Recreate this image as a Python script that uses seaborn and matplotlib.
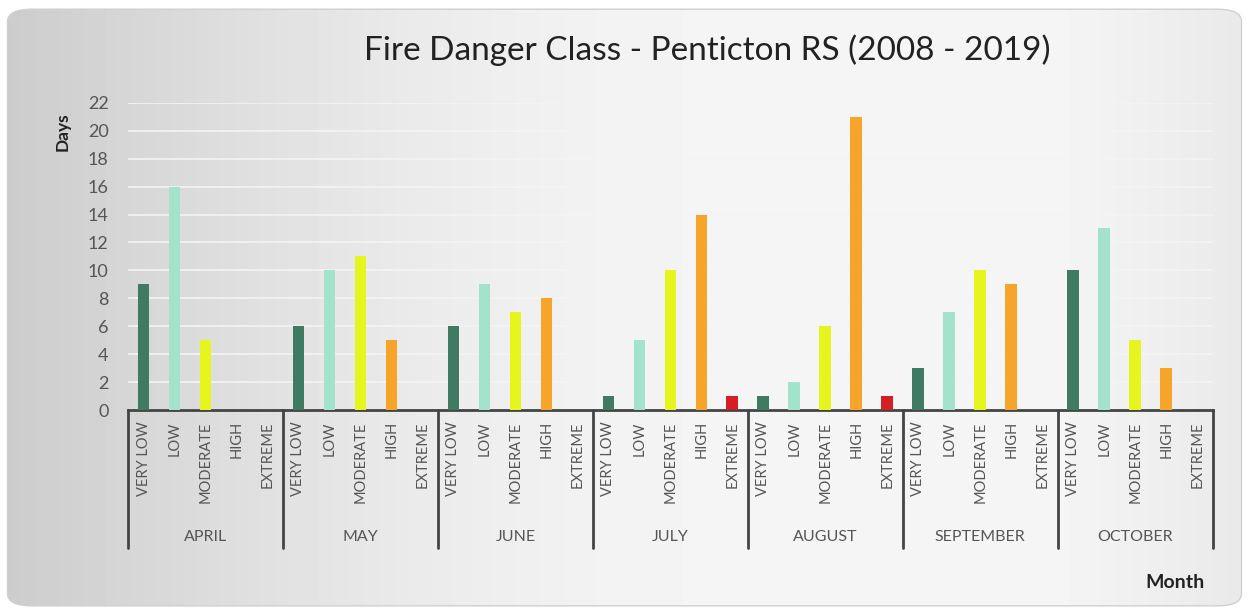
import numpy as np
import pandas as pd
import seaborn as sns
from matplotlib import pyplot as plt
from matplotlib import transforms
from matplotlib.patches import FancyBboxPatch

months = ['APRIL', 'MAY', 'JUNE', 'JULY', 'AUGUST', 'SEPTEMBER', 'OCTOBER']
classes = ['VERY LOW', 'LOW', 'MODERATE', 'HIGH', 'EXTREME']

# days per class, one list per month
april = [9, 16, 5, 0, 0]
may = [6, 10, 11, 5, 0]
june = [6, 9, 7, 8, 0]
july = [1, 5, 10, 14, 1]
august = [1, 2, 6, 21, 1]
september = [3, 7, 10, 9, 0]
october = [10, 13, 5, 3, 0]

colors = ['#3f7a62', '#a3e3cb', '#e6f51e', '#f7a52a', '#d41f26']

rows = []
for m, vals in zip(months, [april, may, june, july, august, september, october]):
    for c, v in zip(classes, vals):
        rows.append({'slot': m + '|' + c, 'month': m, 'danger': c, 'days': v})
df = pd.DataFrame(rows)

sns.set_theme(style='white')
plt.rcParams['font.family'] = ['Lato', 'DejaVu Sans']

fig = plt.figure(figsize=(12.49, 6.12), dpi=100)
fig.patch.set_facecolor('white')

# gradient background panel
bg = fig.add_axes([0, 0, 1, 1], zorder=-5)
bg.set_xlim(0, 1)
bg.set_ylim(0, 1)
bg.axis('off')
xx = np.linspace(0, 1, 400)
grad = np.tile(0.80 + 0.16 * np.sin(np.clip(xx * 1.6, 0, 1) * np.pi / 2) - 0.05 * np.clip(xx - 0.85, 0, 1) * 6, (50, 1))
panel = FancyBboxPatch((0.006, 0.01), 0.988, 0.975, boxstyle='round,pad=0,rounding_size=0.02',
                       facecolor='none', edgecolor='#d0d0d0', lw=1)
bg.add_patch(panel)
im = bg.imshow(grad, cmap='gray', vmin=0, vmax=1, extent=[0.006, 0.994, 0.01, 0.985], aspect='auto')
im.set_clip_path(panel)

ax = fig.add_axes([0.1025, 0.330, 0.8685, 0.502])
ax.patch.set_alpha(0)
sns.barplot(data=df, x='slot', y='days', hue='danger', order=df['slot'], hue_order=classes,
            palette=colors, saturation=1, dodge=False, width=0.38, linewidth=0,
            legend=False, ax=ax, zorder=3)

ax.set_ylim(0, 22)
ax.set_xlim(-0.5, len(df) - 0.5)
ax.set_yticks(range(0, 23, 2))
ax.yaxis.grid(True, color='#f4f4f4', lw=1.2, zorder=0)
ax.tick_params(axis='y', length=0, labelsize=13, labelcolor='#555555', pad=14)
ax.set_xticks(range(len(df)))
ax.set_xticklabels(df['danger'], rotation=90, fontsize=10.5, color='#555555')
ax.tick_params(axis='x', length=0, pad=8)
for s in ['top', 'right', 'left']:
    ax.spines[s].set_visible(False)
ax.spines['bottom'].set_color('#444444')
ax.spines['bottom'].set_linewidth(2)
ax.set_xlabel('')
ax.set_ylabel('')

tr = transforms.blended_transform_factory(ax.transData, ax.transAxes)
for i in range(len(months) + 1):
    ax.plot([i * 5 - 0.5, i * 5 - 0.5], [0, -0.45], transform=tr, color='#444444', lw=2, clip_on=False)
for i, m in enumerate(months):
    ax.text(i * 5 + 2, -0.414, m, transform=tr, ha='center', va='center', fontsize=11.5, color='#555555')

fig.text(0.566, 0.918, 'Fire Danger Class - Penticton RS (2008 - 2019)', ha='center', va='center',
         fontsize=24, color='#222222')
fig.text(0.05, 0.785, 'Days', rotation=90, ha='center', va='center', fontsize=12.5, fontweight='bold',
         color='#222222')
fig.text(0.941, 0.048, 'Month', ha='center', va='center', fontsize=14, fontweight='bold', color='#222222')

fig.savefig('out.png', dpi=100)
